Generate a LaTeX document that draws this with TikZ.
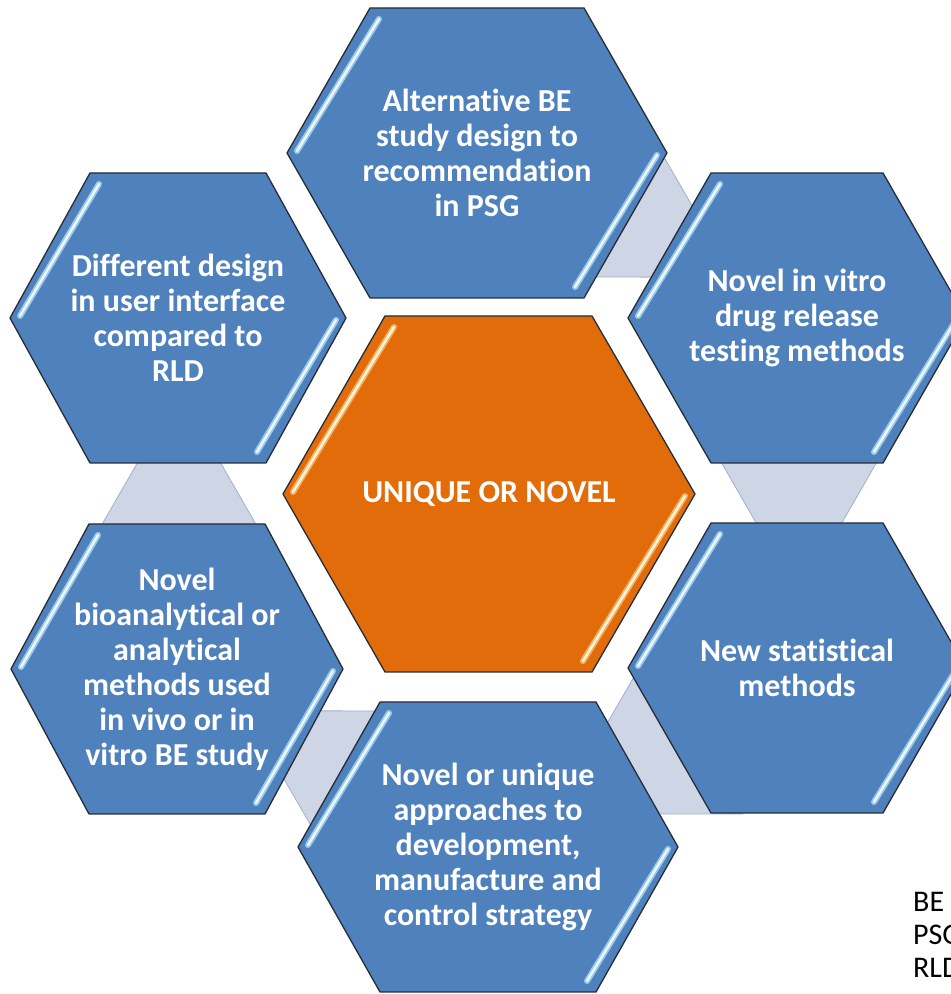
\documentclass[tikz,border=0pt]{standalone}
\usepackage{fontspec}
\setmainfont{Carlito}[RawFeature={-liga}]
\usepackage{xcolor}
\definecolor{hexblue}{RGB}{79,129,189}
\definecolor{hexorange}{RGB}{227,108,10}
\definecolor{linkfill}{RGB}{206,214,230}
\definecolor{linkdraw}{RGB}{160,176,204}
\definecolor{edgedark}{RGB}{38,44,56}
\definecolor{glowblue}{RGB}{170,215,240}
\definecolor{coreblue}{RGB}{236,248,255}
\definecolor{gloworange}{RGB}{250,190,120}
\definecolor{coreorange}{RGB}{255,246,215}

\begin{document}
\begin{tikzpicture}[x=1pt, y=1pt,
        hexside/.style={fill=hexblue, draw=edgedark, line width=1.3pt, line join=round},
        hexmid/.style={hexside, fill=hexorange},
        linkpiece/.style={fill=linkfill, draw=linkdraw, line width=0.8pt, line join=round},
        gloss/.style={line cap=round, line width=6pt, draw=#1, opacity=0.85},
        shine/.style={line cap=round, line width=2.4pt, draw=#1},
        hextext/.style={text=white, align=center, inner sep=0pt, font=\bfseries\fontsize{32}{35}\selectfont},
        legendtext/.style={anchor=north west, align=left, inner sep=0pt, font=\fontsize{30}{33}\selectfont}
    ]
    \useasboundingbox (0,0) rectangle (951,994);

    \foreach \ang in {0,60,-60,-120,180}
    {
        \begin{scope}[shift={(489,500)}, rotate=\ang]
            \draw[linkpiece] (216,60) -- (404,60) -- (335,-60) -- (285,-60) -- cycle;
        \end{scope}
    }

    \foreach \nm/\cx/\cy/\hw/\ha/\hh/\txt in {
        top/477/841/190/107/145/{Alternative BE\\study design to\\recommendation\\in PSG},
        upright/797/676/169/86/145/{Novel in vitro\\drug release\\testing methods},
        lowright/797/326/169/86/145/{New statistical\\methods},
        bottom/488/147/190/108/145/{Novel or unique\\approaches to\\development,\\manufacture and\\control strategy},
        lowleft/177/325/166/88/145/{Novel\\bioanalytical or\\analytical\\methods used\\in vivo or in\\vitro BE study},
        upleft/178/676/168/88/145/{Different design\\in user interface\\compared to\\RLD}}
    {
        \draw[hexside] (\cx-\hw,\cy) -- (\cx-\ha,\cy+\hh) -- (\cx+\ha,\cy+\hh) -- (\cx+\hw,\cy)
            -- (\cx+\ha,\cy-\hh) -- (\cx-\ha,\cy-\hh) -- cycle;
        \draw[gloss=glowblue] (\cx-\hw+10,\cy+2) -- (\cx-\ha+9,\cy+\hh-11);
        \draw[shine=coreblue] (\cx-\hw+10,\cy+2) -- (\cx-\ha+9,\cy+\hh-11);
        \draw[gloss=glowblue] (\cx+\hw-10,\cy-2) -- (\cx+\ha-9,\cy-\hh+11);
        \draw[shine=coreblue] (\cx+\hw-10,\cy-2) -- (\cx+\ha-9,\cy-\hh+11);
        \node[hextext] (\nm) at (\cx,\cy) {\txt};
    }

    \draw[hexmid] (283,500) -- (385,678) -- (592,678) -- (695,500) -- (592,322) -- (385,322) -- cycle;
    \draw[gloss=gloworange] (293,502) -- (394,667);
    \draw[shine=coreorange] (293,502) -- (394,667);
    \draw[gloss=gloworange] (685,498) -- (583,333);
    \draw[shine=coreorange] (685,498) -- (583,333);
    \node[hextext] (core) at (489,500) {UNIQUE OR NOVEL};

    \node[legendtext] (abbr) at (913,102) {BE\\PSG\\RLD};
\end{tikzpicture}
\end{document}
